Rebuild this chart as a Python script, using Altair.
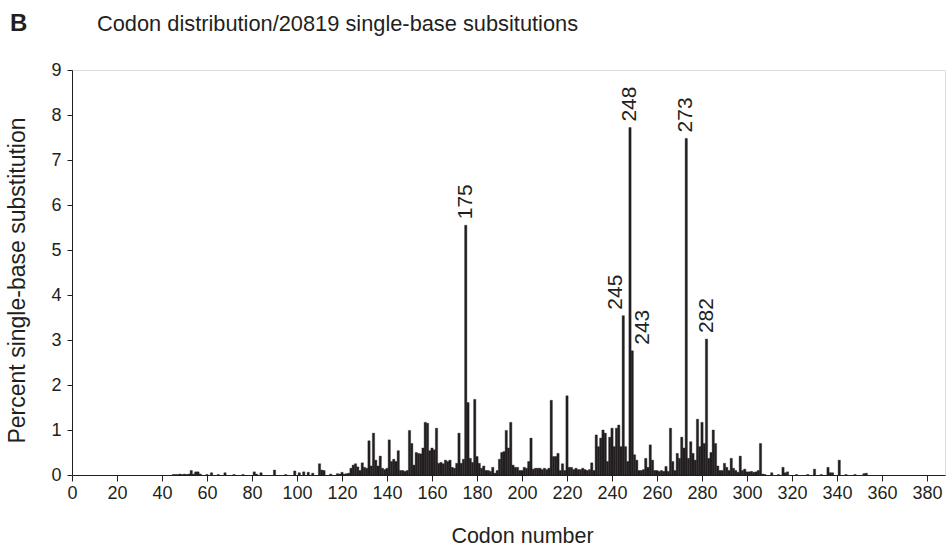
import altair as alt
import pandas as pd

# ---- data ----
codons = [45, 46, 47, 48, 49, 50, 51, 52, 53, 54, 55, 56, 57, 60, 62, 65, 68, 72, 76,
          81, 82, 84, 90, 95, 99, 101, 103, 105, 107, 110, 111, 112, 115,
          118, 119, 120, 121, 122, 123, 124, 125, 126, 127, 128, 129, 130,
          131, 132, 133, 134, 135, 136, 137, 138, 139, 140,
          141, 142, 143, 144, 145, 146, 147, 148, 149, 150,
          151, 152, 153, 154, 155, 156, 157, 158, 159, 160,
          161, 162, 163, 164, 165, 166, 167, 168, 169, 170,
          171, 172, 173, 174, 175, 176, 177, 178, 179, 180,
          181, 182, 183, 184, 185, 186, 187, 188, 189, 190,
          191, 192, 193, 194, 195, 196, 197, 198, 199, 200,
          201, 202, 203, 204, 205, 206, 207, 208, 209, 210,
          211, 212, 213, 214, 215, 216, 217, 218, 219, 220,
          221, 222, 223, 224, 225, 226, 227, 228, 229, 230,
          231, 232, 233, 234, 235, 236, 237, 238, 239, 240,
          241, 242, 243, 244, 245, 246, 247, 248, 249, 250,
          251, 252, 253, 254, 255, 256, 257, 258, 259, 260,
          261, 262, 263, 264, 265, 266, 267, 268, 269, 270,
          271, 272, 273, 274, 275, 276, 277, 278, 279, 280,
          281, 282, 283, 284, 285, 286, 287, 288, 289, 290,
          291, 292, 293, 294, 295, 296, 297, 298, 299, 300,
          301, 302, 303, 304, 305, 306, 307, 308, 311, 314,
          316, 317, 318, 322, 327, 330, 333, 336, 337, 338,
          341, 344, 348, 352, 353]
percent = [0.01, 0.01, 0.01, 0.02, 0.01, 0.02, 0.01, 0.02, 0.10, 0.02, 0.07, 0.07, 0.02, 0.01, 0.05, 0.01, 0.05, 0.01, 0.01,
           0.07, 0.02, 0.05, 0.11, 0.01, 0.09, 0.05, 0.07, 0.06, 0.04, 0.25, 0.11, 0.10, 0.02,
           0.03, 0.02, 0.06, 0.02, 0.03, 0.04, 0.15, 0.22, 0.25, 0.18, 0.10, 0.27, 0.17,
           0.15, 0.76, 0.20, 0.93, 0.33, 0.20, 0.42, 0.15, 0.12, 0.15,
           0.78, 0.30, 0.35, 0.30, 0.54, 0.10, 0.10, 0.08, 0.10, 0.99,
           0.70, 0.22, 0.50, 0.48, 0.47, 0.60, 1.17, 1.15, 0.54, 0.60,
           0.56, 1.04, 0.26, 0.28, 0.25, 0.33, 0.30, 0.33, 0.17, 0.15,
           0.26, 0.93, 0.26, 0.35, 5.55, 1.61, 0.37, 0.28, 1.68, 0.41,
           0.26, 0.15, 0.20, 0.10, 0.10, 0.08, 0.17, 0.04, 0.10, 0.35,
           0.50, 0.52, 0.99, 0.60, 1.17, 0.22, 0.17, 0.17, 0.10, 0.10,
           0.17, 0.15, 0.30, 0.82, 0.13, 0.15, 0.15, 0.15, 0.12, 0.15,
           0.12, 0.15, 1.66, 0.41, 0.41, 0.48, 0.10, 0.25, 0.10, 1.76,
           0.17, 0.17, 0.12, 0.15, 0.12, 0.12, 0.15, 0.12, 0.10, 0.12,
           0.27, 0.10, 0.89, 0.63, 0.82, 1.00, 0.93, 0.30, 0.84, 1.04,
           0.63, 1.04, 1.11, 0.63, 3.54, 0.63, 0.30, 7.72, 2.76, 0.45,
           0.33, 0.10, 0.10, 0.12, 0.37, 0.17, 0.67, 0.33, 0.10, 0.10,
           0.08, 0.10, 0.08, 0.19, 0.08, 1.04, 0.30, 0.10, 0.48, 0.37,
           0.84, 0.60, 7.48, 0.37, 0.74, 0.48, 0.33, 1.24, 0.63, 1.17,
           0.70, 3.02, 0.37, 0.50, 1.00, 0.70, 0.20, 0.10, 0.10, 0.26,
           0.17, 0.10, 0.37, 0.15, 0.10, 0.06, 0.42, 0.10, 0.13, 0.07,
           0.07, 0.08, 0.06, 0.07, 0.10, 0.70, 0.02, 0.01, 0.05, 0.01,
           0.17, 0.05, 0.07, 0.01, 0.01, 0.13, 0.01, 0.17, 0.05, 0.05,
           0.33, 0.01, 0.01, 0.03, 0.04]

label_codons = [175, 248, 273, 282, 245, 249]
label_texts = ["175", "248", "273", "282", "245", "243"]
label_group = ["c", "c", "c", "c", "l", "r"]

x_ticks = list(range(0, 390, 10))
y_ticks = list(range(0, 10))

title_text = "Codon distribution/20819 single-base subsitutions"
panel_letter = "B"
x_title = "Codon number"
y_title = "Percent single-base substitution"

INK = "#231f20"
FONT = "Liberation Sans"

df = pd.DataFrame({"codon": codons, "percent": percent})
pct = dict(zip(codons, percent))
lab = pd.DataFrame({"codon": label_codons, "text": label_texts, "grp": label_group,
                    "percent": [pct[c] for c in label_codons]})

xscale = alt.Scale(domain=[0, 388], nice=False, zero=False)
yscale = alt.Scale(domain=[0, 9], nice=False)

x_axis = alt.Axis(values=x_ticks, labelExpr="datum.value % 20 == 0 ? datum.label : ''",
                  grid=False, domainColor=INK, tickColor=INK, tickSize=6, labelFontSize=18,
                  labelFont=FONT, labelColor=INK, labelPadding=3, title=x_title,
                  titleFont=FONT, titleFontSize=21.5, titleFontWeight="normal", titleColor=INK,
                  titleX=450, titleY=67, titleBaseline="alphabetic", titleAlign="center",
                  labelFlush=False, labelOverlap=False)
y_axis = alt.Axis(values=y_ticks, grid=False, domainColor=INK, tickColor=INK, tickSize=5,
                  labelFontSize=18, labelFont=FONT, labelColor=INK, labelPadding=6,
                  title=y_title, titleFont=FONT, titleFontSize=23, titleFontWeight="normal",
                  titleColor=INK, titleAngle=270, titleX=-55, titleY=210,
                  titleAlign="center", titleBaseline="middle")

bars = alt.Chart(df).transform_calculate(
    x0="datum.codon - 0.5", x1="datum.codon + 0.5"
).mark_bar(color=INK, stroke=INK, strokeWidth=0.4).encode(
    x=alt.X("x0:Q", scale=xscale, axis=x_axis),
    x2="x1:Q",
    y=alt.Y("percent:Q", scale=yscale, axis=y_axis),
    y2=alt.datum(0),
)

def label_layer(grp, dy):
    return alt.Chart(lab).transform_filter(alt.datum.grp == grp).mark_text(
        angle=270, align="left", baseline="middle", dx=6, dy=dy,
        fontSize=21, font=FONT, color=INK
    ).encode(
        x=alt.X("codon:Q", scale=xscale),
        y=alt.Y("percent:Q", scale=yscale),
        text="text:N",
    )

labels = label_layer("c", 0) + label_layer("l", -7) + label_layer("r", 11)

letter = alt.Chart(pd.DataFrame({"t": [panel_letter]})).mark_text(
    align="left", baseline="alphabetic", fontSize=24, fontWeight="bold", font=FONT, color=INK
).encode(x=alt.value(-62), y=alt.value(-39), text="t:N")

title = alt.Chart(pd.DataFrame({"t": [title_text]})).mark_text(
    align="left", baseline="alphabetic", fontSize=21.8, font=FONT, color=INK
).encode(x=alt.value(25), y=alt.value(-39), text="t:N")

chart = alt.layer(bars, labels, letter, title).properties(
    width=873, height=405,
    autosize=alt.AutoSizeParams(type="none"),
    padding={"left": 72, "top": 70, "right": 1, "bottom": 71},
).configure_view(stroke=None).configure(background="white")

chart.save("out.html", embed_options={"renderer": "svg", "actions": False})
